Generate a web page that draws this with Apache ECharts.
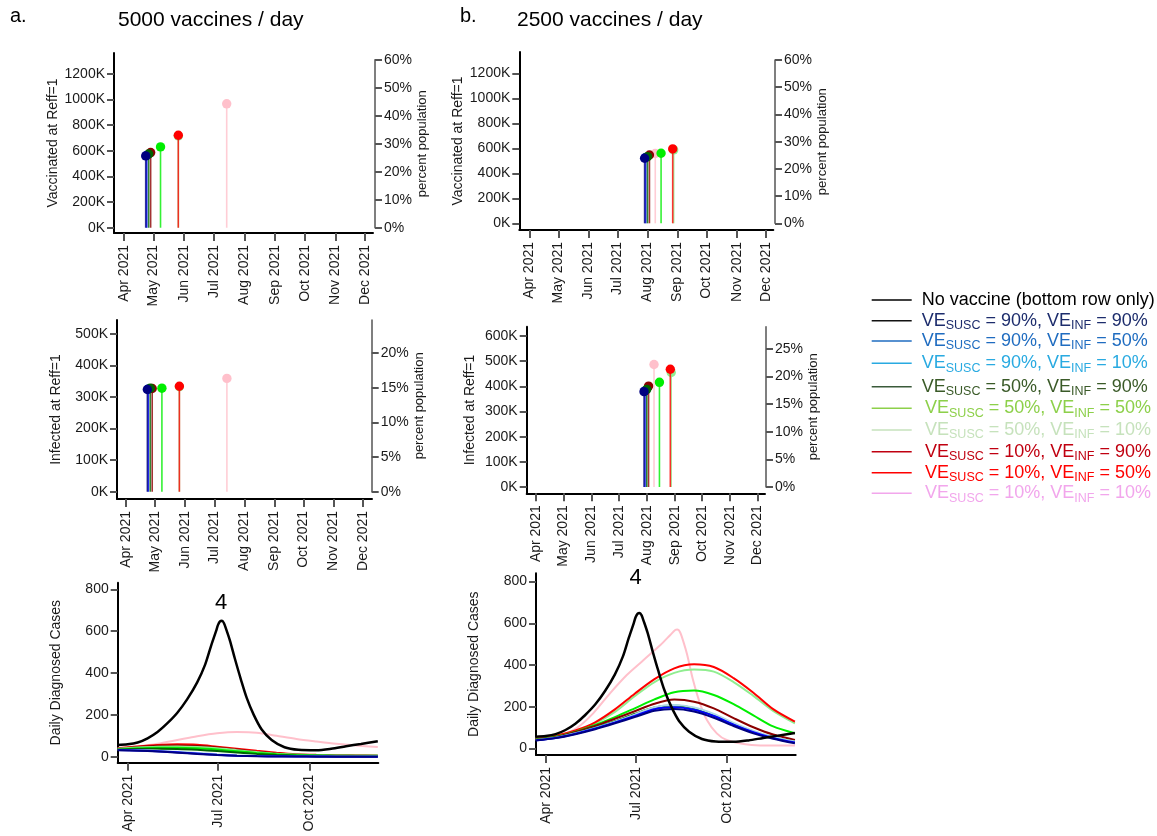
<!DOCTYPE html>
<html>
<head>
<meta charset="utf-8">
<script src="https://cdn.jsdelivr.net/npm/echarts@6/dist/echarts.min.js"></script>
<style>
  html, body { margin: 0; padding: 0; background: #fff; }
  #chart { width: 1157px; height: 836px; }
</style>
</head>
<body>
<div id="chart"></div>
<script>
// ---------------------------------------------------------------------------
// Scenario data
// ---------------------------------------------------------------------------
const scenarioNames = [
  'VE_SUSC = 90%, VE_INF = 90%',
  'VE_SUSC = 90%, VE_INF = 50%',
  'VE_SUSC = 90%, VE_INF = 10%',
  'VE_SUSC = 50%, VE_INF = 90%',
  'VE_SUSC = 50%, VE_INF = 50%',
  'VE_SUSC = 50%, VE_INF = 10%',
  'VE_SUSC = 10%, VE_INF = 90%',
  'VE_SUSC = 10%, VE_INF = 50%',
  'VE_SUSC = 10%, VE_INF = 10%'
];
const legendSusc = ['90', '90', '90', '50', '50', '50', '10', '10', '10'];
const legendInf  = ['90', '50', '10', '90', '50', '10', '90', '50', '10'];

// Date at which Reff reaches 1, 5000 vaccines / day
const reffDate5000 = ['2021-04-23', '2021-04-24', '2021-04-24', '2021-04-26', '2021-05-08',
                      '2021-05-26', '2021-04-28', '2021-05-26', '2021-07-14'];
// Vaccinated (thousands) at Reff = 1, 5000 vaccines / day
const vaccinated5000 = [560, 563, 565, 575, 630, 716, 586, 721, 966];
// Infected (thousands) at Reff = 1, 5000 vaccines / day
const infected5000 = [324, 325, 326, 328, 328, 333, 327, 334, 359];

// Date at which Reff reaches 1, 2500 vaccines / day
const reffDate2500 = ['2021-07-29', '2021-07-30', '2021-07-31', '2021-08-01', '2021-08-15',
                      '2021-08-28', '2021-08-03', '2021-08-27', '2021-08-09'];
const vaccinated2500 = [520, 525, 528, 533, 560, 587, 546, 595, 558];
const infected2500 = [379, 382, 384, 388, 416, 455, 401, 468, 487];

// Daily diagnosed cases without vaccination (same in both columns)
const noVaccineDates = ['2021-03-22', '2021-04-01', '2021-04-11', '2021-04-21', '2021-05-01', '2021-05-11',
  '2021-05-21', '2021-05-31', '2021-06-10', '2021-06-18', '2021-06-24', '2021-06-29', '2021-07-01',
  '2021-07-03', '2021-07-05', '2021-07-07', '2021-07-09', '2021-07-13', '2021-07-18', '2021-07-24',
  '2021-07-30', '2021-08-06', '2021-08-14', '2021-08-24', '2021-09-06', '2021-09-20', '2021-10-08',
  '2021-10-23', '2021-11-07', '2021-11-22', '2021-12-09'];
const noVaccineCases = [56, 59, 68, 88, 118, 160, 210, 275, 355, 440, 530, 600, 630,
  647, 650, 638, 612, 555, 468, 370, 280, 200, 130, 80, 45, 33, 31, 38, 50, 61, 74];

// Common sampling dates for the vaccinated scenarios
const caseDates = ['2021-03-22', '2021-04-11', '2021-05-01', '2021-05-21', '2021-06-10', '2021-06-30',
  '2021-07-20', '2021-08-09', '2021-08-29', '2021-09-18', '2021-10-08', '2021-10-28', '2021-11-17',
  '2021-12-09'];

// 5000 vaccines / day, daily diagnosed cases per scenario (order as scenarioNames)
const cases5000 = [
  [31, 29, 25, 19, 13, 8, 4, 2, 1, 1, 0, 0, 0, 0],
  [32, 30, 26, 21, 15, 9, 5, 3, 2, 1, 1, 0, 0, 0],
  [33, 32, 29, 24, 18, 12, 7, 4, 2, 1, 1, 1, 1, 1],
  [34, 37, 38, 37, 33, 27, 20, 13, 8, 5, 4, 3, 3, 2],
  [36, 40, 43, 43, 40, 34, 26, 18, 12, 8, 6, 5, 4, 4],
  [38, 44, 48, 49, 46, 40, 31, 22, 14, 10, 7, 6, 5, 4],
  [38, 46, 52, 54, 51, 44, 34, 24, 15, 10, 8, 6, 5, 4],
  [40, 49, 56, 59, 57, 48, 38, 28, 19, 12, 9, 7, 6, 5],
  [42, 50, 62, 80, 98, 112, 118, 115, 100, 85, 73, 62, 54, 46]
];

// 2500 vaccines / day, daily diagnosed cases per scenario (last scenario sampled separately)
const cases2500 = [
  [38, 49, 68, 92, 120, 150, 180, 189, 177, 147, 107, 72, 46, 24],
  [39, 50, 70, 95, 124, 155, 188, 197, 185, 155, 114, 78, 50, 28],
  [40, 51, 72, 98, 128, 162, 197, 208, 196, 165, 122, 84, 55, 33],
  [40, 52, 74, 100, 130, 165, 196, 205, 192, 160, 118, 80, 52, 32],
  [43, 56, 80, 112, 150, 192, 235, 269, 277, 256, 212, 158, 105, 72],
  [44, 58, 82, 120, 175, 250, 318, 362, 378, 368, 318, 252, 180, 120],
  [40, 53, 78, 107, 142, 178, 214, 234, 224, 192, 145, 101, 66, 40],
  [45, 60, 86, 125, 187, 262, 332, 384, 403, 390, 337, 267, 188, 128],
  null
];
const lowVeDates2500 = ['2021-03-22', '2021-04-15', '2021-05-02', '2021-05-19', '2021-06-05', '2021-06-22',
  '2021-07-09', '2021-07-26', '2021-08-05', '2021-08-10', '2021-08-12', '2021-08-15', '2021-08-19',
  '2021-08-22', '2021-08-28', '2021-09-04', '2021-09-11', '2021-09-21', '2021-10-01', '2021-10-18',
  '2021-11-04', '2021-12-09'];
const lowVeCases2500 = [48, 64, 96, 168, 264, 352, 424, 496, 544, 568, 570, 556, 500,
  450, 328, 216, 136, 72, 40, 21, 14, 13];

// Axis tick values
const monthTicks = ['2021-04-01', '2021-05-01', '2021-06-01', '2021-07-01', '2021-08-01',
  '2021-09-01', '2021-10-01', '2021-11-01', '2021-12-01'];
const quarterTicks = ['2021-04-01', '2021-07-01', '2021-10-01'];
const vaccTicks = [0, 200, 400, 600, 800, 1000, 1200];
const infTicks5000 = [0, 100, 200, 300, 400, 500];
const infTicks2500 = [0, 100, 200, 300, 400, 500, 600];
const caseTicks = [0, 200, 400, 600, 800];
const pctTicksVacc = [0, 10, 20, 30, 40, 50, 60];
const pctTicksInf5000 = [0, 5, 10, 15, 20];
const pctTicksInf2500 = [0, 5, 10, 15, 20, 25];

// ---------------------------------------------------------------------------
// Styling
// ---------------------------------------------------------------------------
const FONT = '"Liberation Sans", Arial, Helvetica, sans-serif';
const scenarioColors = ['#000080', '#0000ff', '#add8e6', '#006400', '#00ee00',
  '#90ee90', '#8b0000', '#ff0000', '#ffc0cb'];
const legendTextColors = ['#1c2c6c', '#1f6cc0', '#29aae1', '#3a5a28', '#8dd04a',
  '#c6e2bc', '#c00010', '#ff0000', '#f2a6ec'];
const legendLineColors = ['#111111', '#1f6cc0', '#29aae1', '#3a5a3a', '#8dd04a',
  '#c6e2bc', '#c00010', '#ff0000', '#f2a6ec'];
const lollipopOrder = [8, 5, 2, 1, 7, 4, 6, 3, 0];
const curveOrder5000 = [8, 7, 6, 5, 4, 3, 2, 1, 0];
const curveOrder2500 = [8, 5, 7, 4, 6, 3, 2, 1, 0];
const MONTHS = ['Jan', 'Feb', 'Mar', 'Apr', 'May', 'Jun', 'Jul', 'Aug', 'Sep', 'Oct', 'Nov', 'Dec'];

const ts = s => Date.parse(s + 'T00:00:00Z');
const APR1 = ts('2021-04-01');
const dayOff = d => APR1 + d * 86400000;

const axisText = { color: '#1a1a1a', fontSize: 14, fontFamily: FONT };

// Panel frames in pixels; x range in days after 1 Apr 2021
const frameA1 = { left: 114, top: 53, right: 373, bottom: 233, xFrom: -10.1, xTo: 252.1, yFrom: -41, yTo: 1362 };
const frameA2 = { left: 117, top: 320, right: 372, bottom: 499, xFrom: -9.3, xTo: 253.6, yFrom: -23, yTo: 544 };
const frameA3 = { left: 117.7, top: 582.7, right: 378.3, bottom: 762.7, xFrom: -10.1, xTo: 252.5, yFrom: -28.7, yTo: 831.5 };
const frameB1 = { left: 519.3, top: 52, right: 773.3, bottom: 230, xFrom: -10.3, xTo: 251.8, yFrom: -53.6, yTo: 1370 };
const frameB2 = { left: 526.7, top: 326.7, right: 765, bottom: 493.3, xFrom: -10.5, xTo: 252.5, yFrom: -25, yTo: 637 };
const frameB3 = { left: 536, top: 573.3, right: 795.7, bottom: 755, xFrom: -9.8, xTo: 252.8, yFrom: -32, yTo: 840 };
// Secondary percent axes
const pctA1 = { x: 375, top: 59.7, bottom: 227.7, max: 60 };
const pctA2 = { x: 371.7, top: 320, bottom: 491.7, max: 24.8 };
const pctB1 = { x: 775, top: 60, bottom: 223.3, max: 60 };
const pctB2 = { x: 766, top: 326.7, bottom: 487, max: 29.0 };

const grids = [], xAxes = [], yAxes = [], series = [], graphics = [];

function dateLabel(v) {
  const d = new Date(v);
  return MONTHS[d.getUTCMonth()] + ' ' + d.getUTCFullYear();
}

function addPanel(f, xTickDates, yTicks, yFmt, yName, yNameGap) {
  const gi = grids.length;
  const xVals = xTickDates.map(ts);
  grids.push({ left: f.left, top: f.top, width: f.right - f.left, height: f.bottom - f.top });
  xAxes.push({
    type: 'value', gridIndex: gi, min: dayOff(f.xFrom), max: dayOff(f.xTo),
    axisLine: { show: true, onZero: false, lineStyle: { color: '#000', width: 2 } },
    axisTick: { show: true, customValues: xVals, length: 8, lineStyle: { color: '#555', width: 2 } },
    axisLabel: { show: true, customValues: xVals, rotate: 90, margin: 12, formatter: dateLabel, ...axisText },
    splitLine: { show: false }
  });
  yAxes.push({
    type: 'value', gridIndex: gi, position: 'left', min: f.yFrom, max: f.yTo,
    name: yName, nameLocation: 'middle', nameGap: yNameGap, nameRotate: 90,
    nameTextStyle: { ...axisText },
    axisLine: { show: true, onZero: false, lineStyle: { color: '#000', width: 2 } },
    axisTick: { show: true, customValues: yTicks, length: 7, lineStyle: { color: '#555', width: 2 } },
    axisLabel: { show: true, customValues: yTicks, margin: 9, formatter: yFmt, ...axisText },
    splitLine: { show: false }
  });
  return gi;
}

function addPercentAxis(p, ticks, nameGap) {
  const gi = grids.length;
  grids.push({ left: p.x - 20, top: p.top, width: 20, height: p.bottom - p.top });
  xAxes.push({ type: 'value', gridIndex: gi, show: false, min: 0, max: 1 });
  yAxes.push({
    type: 'value', gridIndex: gi, position: 'right', min: 0, max: p.max,
    name: 'percent population', nameLocation: 'middle', nameGap: nameGap, nameRotate: 90,
    nameTextStyle: { ...axisText, fontSize: 13 },
    axisLine: { show: true, onZero: false, lineStyle: { color: '#555', width: 1.5 } },
    axisTick: { show: true, customValues: ticks, length: 7, lineStyle: { color: '#555', width: 2 } },
    axisLabel: { show: true, customValues: ticks, margin: 9, formatter: v => v + '%', ...axisText },
    splitLine: { show: false }
  });
}

function addLollipops(gi, dates, values) {
  lollipopOrder.forEach(k => {
    const color = scenarioColors[k];
    series.push({
      type: 'custom', name: scenarioNames[k], xAxisIndex: gi, yAxisIndex: gi, clip: false,
      data: [[ts(dates[k]), values[k]]],
      renderItem: (params, api) => {
        const p0 = api.coord([api.value(0), 0]);
        const p1 = api.coord([api.value(0), api.value(1)]);
        return {
          type: 'group', children: [
            { type: 'line', shape: { x1: p0[0], y1: p0[1], x2: p1[0], y2: p1[1] },
              style: { stroke: color, lineWidth: 1.6, opacity: 0.8 } },
            { type: 'circle', shape: { cx: p1[0], cy: p1[1], r: 4.7 }, style: { fill: color } }
          ]
        };
      }
    });
  });
}

function lineSeries(gi, name, dates, values, color, width) {
  return {
    type: 'line', name, xAxisIndex: gi, yAxisIndex: gi, showSymbol: false, symbol: 'none',
    smooth: 0.3, data: dates.map((d, i) => [ts(d), values[i]]),
    lineStyle: { color, width }, itemStyle: { color }
  };
}

// Scenario number written above the unvaccinated peak
function addPeakTag(gi, date, value) {
  series.push({
    type: 'custom', xAxisIndex: gi, yAxisIndex: gi, silent: true, clip: false,
    data: [[ts(date), value]],
    renderItem: (params, api) => {
      const p = api.coord([api.value(0), api.value(1)]);
      return { type: 'text', x: p[0], y: p[1],
        style: { text: '4', fontSize: 22, fill: '#000', fontFamily: FONT, align: 'center', verticalAlign: 'middle' } };
    }
  });
}

const kFmt = v => v + 'K';
const plainFmt = v => String(v);

// Column a: 5000 vaccines / day
const gA1 = addPanel(frameA1, monthTicks, vaccTicks, kFmt, 'Vaccinated at Reff=1', 50);
const gA2 = addPanel(frameA2, monthTicks, infTicks5000, kFmt, 'Infected at Reff=1', 54);
const gA3 = addPanel(frameA3, quarterTicks, caseTicks, plainFmt, 'Daily Diagnosed Cases', 55);
// Column b: 2500 vaccines / day
const gB1 = addPanel(frameB1, monthTicks, vaccTicks, kFmt, 'Vaccinated at Reff=1', 54);
const gB2 = addPanel(frameB2, monthTicks, infTicks2500, kFmt, 'Infected at Reff=1', 50);
const gB3 = addPanel(frameB3, quarterTicks, caseTicks, plainFmt, 'Daily Diagnosed Cases', 55);

addPercentAxis(pctA1, pctTicksVacc, 41);
addPercentAxis(pctA2, pctTicksInf5000, 41);
addPercentAxis(pctB1, pctTicksVacc, 40);
addPercentAxis(pctB2, pctTicksInf2500, 37);

addLollipops(gA1, reffDate5000, vaccinated5000);
addLollipops(gA2, reffDate5000, infected5000);
addLollipops(gB1, reffDate2500, vaccinated2500);
addLollipops(gB2, reffDate2500, infected2500);

curveOrder5000.forEach(k => {
  series.push(lineSeries(gA3, scenarioNames[k], caseDates, cases5000[k], scenarioColors[k], 2));
});
series.push(lineSeries(gA3, 'No vaccine', noVaccineDates, noVaccineCases, '#000', 2.5));
addPeakTag(gA3, '2021-07-04', 734);

curveOrder2500.forEach(k => {
  const s = k === 8
    ? lineSeries(gB3, scenarioNames[k], lowVeDates2500, lowVeCases2500, scenarioColors[k], 2)
    : lineSeries(gB3, scenarioNames[k], caseDates, cases2500[k], scenarioColors[k], 2);
  series.push(s);
});
series.push(lineSeries(gB3, 'No vaccine', noVaccineDates, noVaccineCases, '#000', 2.5));
addPeakTag(gB3, '2021-07-01', 816);

// ---------------------------------------------------------------------------
// Column titles
// ---------------------------------------------------------------------------
const titleStyle = { fontSize: 21, fill: '#000', fontFamily: FONT, verticalAlign: 'middle' };
graphics.push(
  { type: 'text', x: 10, y: 16, style: { ...titleStyle, text: 'a.', fontSize: 20 } },
  { type: 'text', x: 118, y: 20, style: { ...titleStyle, text: '5000 vaccines / day' } },
  { type: 'text', x: 460, y: 16, style: { ...titleStyle, text: 'b.', fontSize: 20 } },
  { type: 'text', x: 517, y: 20, style: { ...titleStyle, text: '2500 vaccines / day' } }
);

// ---------------------------------------------------------------------------
// Legend
// ---------------------------------------------------------------------------
const legendRowsY = [300, 320.7, 341, 363.3, 386.7, 408.3, 430, 451.7, 472.7, 493.3];
function legendRow(y, lineColor, textX, text, rich) {
  graphics.push(
    { type: 'line', shape: { x1: 871.7, y1: y, x2: 911.7, y2: y }, style: { stroke: lineColor, lineWidth: 1.6 } },
    { type: 'text', x: textX, y: y, style: { text, rich, verticalAlign: 'middle', fontFamily: FONT, fontSize: 18 } }
  );
}
legendRow(legendRowsY[0], '#000', 921.7, '{m|No vaccine (bottom row only)}',
  { m: { fontSize: 18, fill: '#000', fontFamily: FONT } });
scenarioNames.forEach((nm, k) => {
  const c = legendTextColors[k];
  const rich = {
    m: { fontSize: 18, fill: c, fontFamily: FONT },
    s: { fontSize: 12.5, fill: c, fontFamily: FONT, padding: [10, 0, 0, 0] }
  };
  const text = '{m|VE}{s|SUSC}{m| = ' + legendSusc[k] + '%, VE}{s|INF}{m| = ' + legendInf[k] + '%}';
  legendRow(legendRowsY[k + 1], legendLineColors[k], k < 4 ? 921.7 : 925, text, rich);
});

const chart = echarts.init(document.getElementById('chart'), null, { renderer: 'canvas' });
chart.setOption({
  animation: false,
  backgroundColor: '#fff',
  textStyle: { fontFamily: FONT },
  grid: grids,
  xAxis: xAxes,
  yAxis: yAxes,
  series: series,
  graphic: graphics
});
</script>
</body>
</html>
